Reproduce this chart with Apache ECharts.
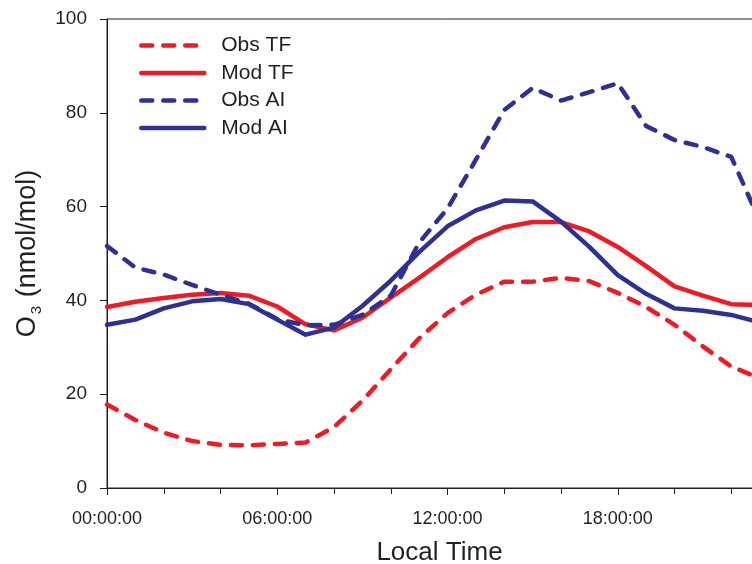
<!DOCTYPE html>
<html>
<head>
<meta charset="utf-8">
<script src="https://cdn.jsdelivr.net/npm/echarts@6/dist/echarts.min.js"></script>
<style>
  html, body { margin: 0; padding: 0; background: #ffffff; overflow: hidden; }
  /* the full 24 h plot is wider than the window; the last hour runs past the right edge */
  #chart { width: 788px; height: 564px; }
</style>
</head>
<body>
<div id="chart"></div>
<script>
// Diurnal ozone cycle (hourly means), observed vs. modelled at two sites
const hours = [0, 1, 2, 3, 4, 5, 6, 7, 8, 9, 10, 11, 12, 13, 14, 15, 16, 17, 18, 19, 20, 21, 22, 23];
const obsTF = [17.8, 14.5, 11.8, 10.0, 9.2, 9.1, 9.4, 9.7, 13.0, 18.6, 25.3, 31.9, 37.3, 41.2, 44.0, 44.0, 44.8, 44.1, 41.6, 38.6, 34.8, 30.2, 25.9, 23.4];
const modTF = [38.6, 39.7, 40.5, 41.2, 41.6, 41.0, 38.7, 34.9, 33.6, 36.3, 40.6, 44.8, 49.2, 53.1, 55.6, 56.7, 56.7, 54.7, 51.4, 47.3, 43.0, 41.0, 39.2, 39.0];
const obsAI = [51.6, 47.0, 45.5, 43.3, 41.2, 39.3, 36.0, 34.7, 34.8, 36.9, 41.0, 52.3, 59.6, 70.0, 80.6, 85.3, 82.6, 84.4, 86.3, 77.2, 74.2, 72.7, 70.6, 57.0];
const modAI = [34.8, 35.9, 38.3, 39.8, 40.3, 39.2, 35.9, 32.7, 34.2, 38.8, 44.2, 50.3, 55.8, 59.2, 61.3, 61.1, 56.8, 51.4, 45.4, 41.4, 38.3, 37.8, 36.9, 35.3];
const seriesNames = ['Obs TF', 'Mod TF', 'Obs AI', 'Mod AI'];
const xTickLabels = ['00:00:00', '06:00:00', '12:00:00', '18:00:00'];

const RED = '#ed1c24';
const BLUE = '#2e3192';
const INK = '#231f20';
const FONT = '"Liberation Sans", Arial, Helvetica, sans-serif';
const DASH = [11, 11];

function pairs(values) {
  return hours.map((h, i) => [h, values[i]]);
}

function lineSeries(name, values, color, dashed) {
  return {
    name: name,
    type: 'line',
    data: pairs(values),
    symbol: 'none',
    smooth: false,
    lineStyle: {
      color: color,
      width: 4.5,
      type: dashed ? DASH : 'solid',
      cap: 'round',
      join: 'round'
    },
    itemStyle: { color: color },
    emphasis: { disabled: true }
  };
}

const chart = echarts.init(document.getElementById('chart'), null, { renderer: 'canvas' });

chart.setOption({
  animation: false,
  backgroundColor: '#ffffff',
  grid: {
    left: 107,
    top: 19,
    bottom: 76,
    right: 0,
    outerBoundsMode: 'none',
    containLabel: false,
    show: true,
    borderColor: INK,
    borderWidth: 1,
    backgroundColor: 'transparent'
  },
  legend: {
    orient: 'vertical',
    left: 139,
    top: 35,
    padding: 0,
    itemWidth: 63,
    itemHeight: 14,
    itemGap: 6.5,
    data: seriesNames,
    lineStyle: { width: 4.5 },
    itemStyle: { opacity: 0 },
    textStyle: {
      fontFamily: FONT,
      fontSize: 21,
      color: INK,
      padding: [0, 0, 0, 12]
    }
  },
  xAxis: {
    type: 'value',
    min: 0,
    max: 24,
    interval: 6,
    name: 'Local Time',
    nameLocation: 'middle',
    nameGap: 52,
    nameTextStyle: {
      fontFamily: FONT,
      fontSize: 26,
      color: INK,
      padding: [0, 16, 0, 0]
    },
    axisLine: { show: true, lineStyle: { color: INK, width: 1 } },
    axisTick: { show: true, inside: false, length: 7, lineStyle: { color: INK, width: 1 } },
    minorTick: { show: true, splitNumber: 3, length: 6, lineStyle: { color: INK, width: 1 } },
    splitLine: { show: false },
    minorSplitLine: { show: false },
    axisLabel: {
      margin: 22,
      fontFamily: FONT,
      fontSize: 18,
      color: INK,
      formatter: function (v) {
        const idx = Math.round(v / 6);
        return xTickLabels[idx] || '';
      }
    }
  },
  yAxis: {
    type: 'value',
    min: 0,
    max: 100,
    interval: 20,
    name: '{a|O}{b|3}{a| (nmol/mol)}',
    nameLocation: 'middle',
    nameGap: 62,
    nameRotate: 90,
    nameTextStyle: {
      rich: {
        a: { fontFamily: FONT, fontSize: 27, lineHeight: 27, color: INK },
        b: { fontFamily: FONT, fontSize: 15, lineHeight: 15, color: INK, padding: [19, 1, 0, 2] }
      }
    },
    axisLine: { show: true, lineStyle: { color: INK, width: 1 } },
    axisTick: { show: true, inside: false, length: 7, lineStyle: { color: INK, width: 1 } },
    splitLine: { show: false },
    axisLabel: {
      margin: 20,
      fontFamily: FONT,
      fontSize: 19,
      color: INK
    }
  },
  series: [
    lineSeries(seriesNames[0], obsTF, RED, true),
    lineSeries(seriesNames[1], modTF, RED, false),
    lineSeries(seriesNames[2], obsAI, BLUE, true),
    lineSeries(seriesNames[3], modAI, BLUE, false)
  ]
});
</script>
</body>
</html>
